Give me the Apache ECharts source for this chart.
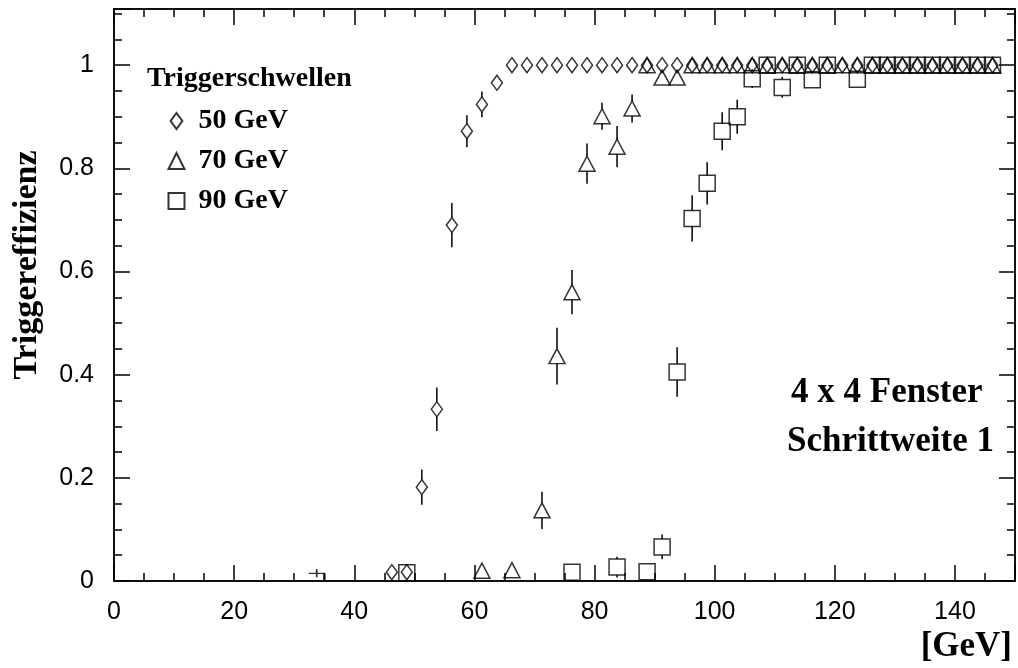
<!DOCTYPE html>
<html>
<head>
<meta charset="utf-8">
<title>Triggereffizienz</title>
<script src="https://cdn.jsdelivr.net/npm/echarts@6/dist/echarts.min.js"></script>
<style>
html, body { margin: 0; padding: 0; background: #fff; }
#main { width: 1018px; height: 668px; }
</style>
</head>
<body>
<div id="main"></div>
<script>
// Triggerschwelle 50 GeV
const x50 = [46.25, 48.75, 51.25, 53.75, 56.25, 58.75, 61.25, 63.75, 66.25, 68.75,
    71.25, 73.75, 76.25, 78.75, 81.25, 83.75, 86.25, 88.75, 91.25, 93.75,
    96.25, 98.75, 101.25, 103.75, 106.25, 108.75, 111.25, 113.75, 116.25, 118.75,
    121.25, 123.75, 126.25, 128.75, 131.25, 133.75, 136.25, 138.75, 141.25, 143.75, 146.25];
const y50 = [0.017, 0.017, 0.182, 0.333, 0.690, 0.872, 0.924, 0.966, 1, 1,
    1, 1, 1, 1, 1, 1, 1, 1, 1, 1,
    1, 1, 1, 1, 1, 1, 1, 1, 1, 1,
    1, 1, 1, 1, 1, 1, 1, 1, 1, 1, 1];
const err50 = [0, 0, 0.034, 0.042, 0.043, 0.031, 0.025, 0.012, 0, 0,
    0, 0, 0, 0, 0, 0, 0, 0, 0, 0,
    0, 0, 0, 0, 0, 0, 0, 0, 0, 0,
    0, 0, 0, 0, 0, 0, 0, 0, 0, 0, 0];

// Triggerschwelle 70 GeV
const x70 = [61.25, 66.25, 71.25, 73.75, 76.25, 78.75, 81.25, 83.75, 86.25, 88.75,
    91.25, 93.75, 96.25, 98.75, 101.25, 103.75, 106.25, 108.75, 111.25, 113.75,
    116.25, 118.75, 121.25, 123.75, 126.25, 128.75, 131.25, 133.75, 136.25, 138.75,
    141.25, 143.75, 146.25];
const y70 = [0.020, 0.021, 0.137, 0.436, 0.560, 0.809, 0.901, 0.842, 0.916, 1,
    0.976, 0.976, 1, 1, 1, 1, 1, 1, 1, 1,
    1, 1, 1, 1, 1, 1, 1, 1, 1, 1,
    1, 1, 1];
const err70 = [0, 0, 0.036, 0.055, 0.043, 0.039, 0.026, 0.040, 0.027, 0,
    0.012, 0.012, 0, 0, 0, 0, 0, 0, 0, 0,
    0, 0, 0, 0, 0, 0, 0, 0, 0, 0,
    0, 0, 0];

// Triggerschwelle 90 GeV
const x90 = [48.75, 76.25, 83.75, 88.75, 91.25, 93.75, 96.25, 98.75, 101.25, 103.75,
    106.25, 108.75, 111.25, 113.75, 116.25, 118.75, 123.75, 126.25, 128.75, 131.25,
    133.75, 136.25, 138.75, 141.25, 143.75, 146.25];
const y90 = [0.016, 0.017, 0.027, 0.018, 0.066, 0.405, 0.703, 0.771, 0.872, 0.900,
    0.974, 1, 0.957, 1, 0.972, 1, 0.973, 1, 1, 1,
    1, 1, 1, 1, 1, 1];
const err90 = [0, 0, 0.02, 0, 0.024, 0.048, 0.045, 0.041, 0.037, 0.033,
    0.018, 0, 0.02, 0, 0.015, 0, 0.015, 0, 0, 0,
    0, 0, 0, 0, 0, 0];

// einzelner Punkt bei 34 GeV
const xStray = [33.75];
const yStray = [0.012];

const xTickLabels = [0, 20, 40, 60, 80, 100, 120, 140];
const yTickLabels = ['0', '0.2', '0.4', '0.6', '0.8', '1'];

const FONT_SANS = 'Liberation Sans, Arial, sans-serif';
const FONT_SERIF = 'Liberation Serif, Times New Roman, serif';

function rows(xs, ys, es) {
    return xs.map((x, i) => [x, ys[i], es ? es[i] : 0]);
}

// Fehlerbalken, unterbrochen am Marker
function errorBars(half) {
    return function (params, api) {
        const x = api.value(0), y = api.value(1), e = api.value(2);
        if (!e) return null;
        const c = api.coord([x, y]);
        const hi = api.coord([x, y + e]);
        const lo = api.coord([x, Math.max(y - e, 0)]);
        const style = { stroke: '#000', lineWidth: 1.5 };
        const children = [];
        if (c[1] - half > hi[1]) {
            children.push({ type: 'line', shape: { x1: c[0], y1: hi[1], x2: c[0], y2: c[1] - half }, style });
        }
        if (lo[1] > c[1] + half) {
            children.push({ type: 'line', shape: { x1: c[0], y1: c[1] + half, x2: c[0], y2: lo[1] }, style });
        }
        return { type: 'group', children };
    };
}

const markerStyle = { color: 'none', borderColor: '#000', borderWidth: 1.5 };
const frameLine = { show: true, onZero: false, lineStyle: { color: '#000', width: 1.5 } };

function xAxisDef(pos, interval, len, labels) {
    return {
        type: 'value', position: pos, min: 0, max: 150, interval: interval,
        axisLine: frameLine,
        axisTick: { show: true, inside: true, length: len, lineStyle: { color: '#000', width: 1.5 } },
        splitLine: { show: false },
        axisLabel: labels ? {
            show: true, margin: 19, fontSize: 25, color: '#000', fontFamily: FONT_SANS,
            formatter: v => (xTickLabels.indexOf(v) >= 0 ? String(v) : '')
        } : { show: false }
    };
}

function yAxisDef(pos, interval, len, labels) {
    return {
        type: 'value', position: pos, min: 0, max: 1.109, interval: interval,
        axisLine: frameLine,
        axisTick: { show: true, inside: true, length: len, lineStyle: { color: '#000', width: 1.5 } },
        splitLine: { show: false },
        axisLabel: labels ? {
            show: true, margin: 20, fontSize: 25, color: '#000', fontFamily: FONT_SANS,
            formatter: v => {
                const s = String(+v.toFixed(2));
                return yTickLabels.indexOf(s) >= 0 ? s : '';
            }
        } : { show: false }
    };
}

var myChart = echarts.init(document.getElementById('main'));

const option = {
    animation: false,
    backgroundColor: '#fff',
    grid: { left: 114, right: 3, top: 9, bottom: 87 },
    xAxis: [
        xAxisDef('bottom', 20, 16, true),
        xAxisDef('bottom', 5, 8, false),
        xAxisDef('top', 20, 16, false),
        xAxisDef('top', 5, 8, false)
    ],
    yAxis: [
        yAxisDef('left', 0.2, 16, true),
        yAxisDef('left', 0.05, 8, false),
        yAxisDef('right', 0.2, 16, false),
        yAxisDef('right', 0.05, 8, false)
    ],
    legend: {
        orient: 'vertical',
        left: 166,
        top: 107,
        padding: 0,
        itemGap: 12,
        itemWidth: 16,
        itemHeight: 16,
        selectedMode: false,
        textStyle: {
            fontFamily: FONT_SERIF, fontWeight: 'bold', fontSize: 28, color: '#000',
            padding: [0, 0, 0, 9]
        },
        data: [
            { name: '50 GeV', icon: 'path://M5.5,0L11,7.5L5.5,15L0,7.5Z' },
            { name: '70 GeV', icon: 'triangle' },
            { name: '90 GeV', icon: 'rect' }
        ]
    },
    graphic: [
        { type: 'text', left: 147, top: 65,
          style: { text: 'Triggerschwellen', font: 'bold 28px ' + FONT_SERIF, fill: '#000' } },
        { type: 'text', left: 791, top: 375,
          style: { text: '4 x 4 Fenster', font: 'bold 35px ' + FONT_SERIF, fill: '#000' } },
        { type: 'text', left: 787, top: 424,
          style: { text: 'Schrittweite 1', font: 'bold 35px ' + FONT_SERIF, fill: '#000' } },
        { type: 'text', right: 6, top: 629,
          style: { text: '[GeV]', font: 'bold 35px ' + FONT_SERIF, fill: '#000' } },
        { type: 'text', x: 27, y: 265, rotation: Math.PI / 2,
          style: { text: 'Triggereffizienz', font: 'bold 34px ' + FONT_SERIF, fill: '#000',
                   align: 'center', verticalAlign: 'middle' } }
    ],
    series: [
        { name: '50 GeV', type: 'scatter', symbol: 'diamond', symbolSize: [11, 15],
          itemStyle: markerStyle, emphasis: { disabled: true }, data: rows(x50, y50) },
        { name: '70 GeV', type: 'scatter', symbol: 'triangle', symbolSize: [16, 15],
          itemStyle: markerStyle, emphasis: { disabled: true }, data: rows(x70, y70) },
        { name: '90 GeV', type: 'scatter', symbol: 'rect', symbolSize: [16, 16],
          itemStyle: markerStyle, emphasis: { disabled: true }, data: rows(x90, y90) },
        { name: 'stray', type: 'scatter', symbol: 'path://M0,4H16M8,0V8M16,4V11', symbolSize: [16, 11],
          itemStyle: markerStyle, emphasis: { disabled: true }, data: rows(xStray, yStray) },
        { name: '50 GeV', type: 'custom', renderItem: errorBars(7.5), clip: true,
          encode: { x: 0, y: 1 }, data: rows(x50, y50, err50) },
        { name: '70 GeV', type: 'custom', renderItem: errorBars(7.5), clip: true,
          encode: { x: 0, y: 1 }, data: rows(x70, y70, err70) },
        { name: '90 GeV', type: 'custom', renderItem: errorBars(8), clip: true,
          encode: { x: 0, y: 1 }, data: rows(x90, y90, err90) }
    ]
};

myChart.setOption(option);
window.addEventListener('resize', myChart.resize);
</script>
</body>
</html>
